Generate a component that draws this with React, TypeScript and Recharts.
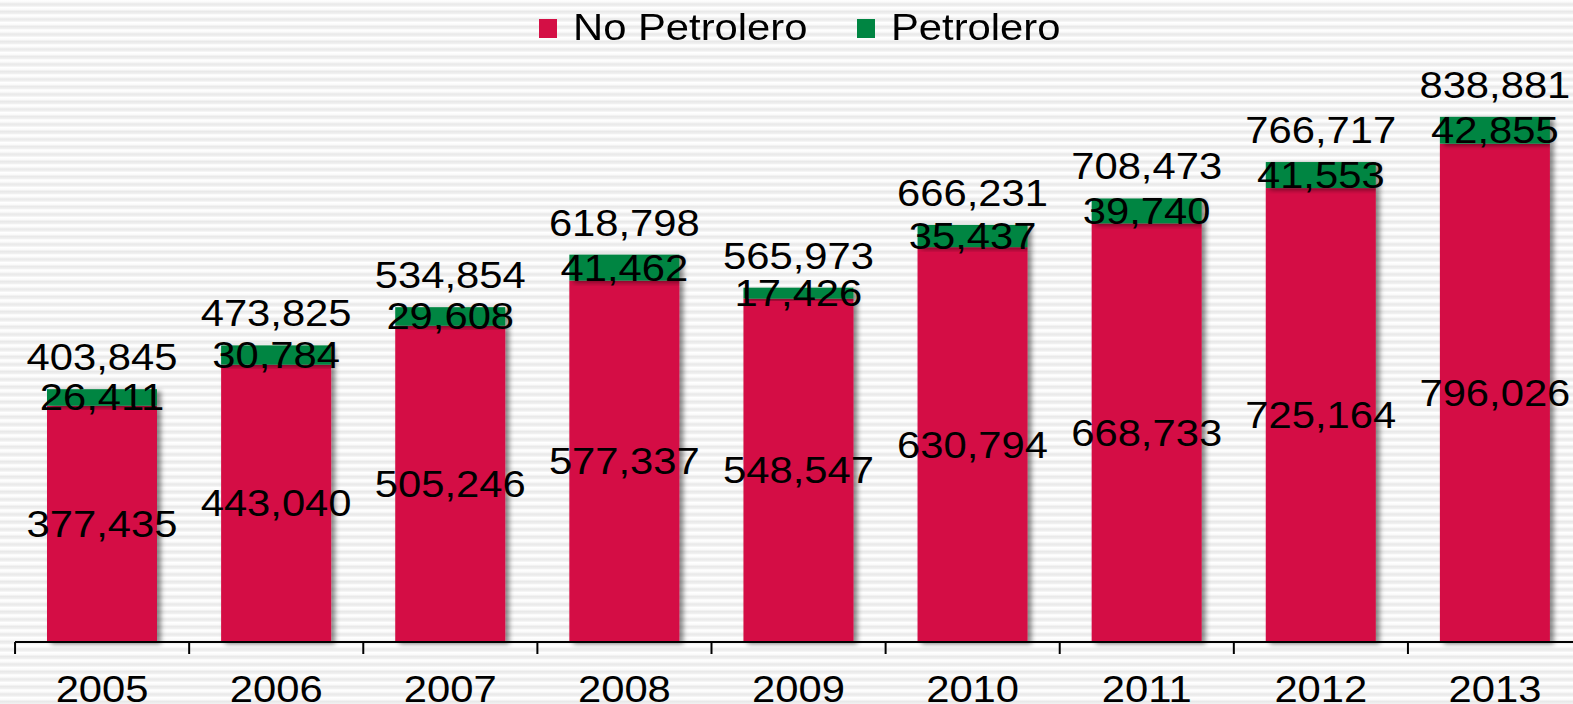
import React from 'react';
import { BarChart, Bar, XAxis, YAxis, LabelList } from 'recharts';

const years = ['2005', '2006', '2007', '2008', '2009', '2010', '2011', '2012', '2013'];
const noPetrolero = [377435, 443040, 505246, 577337, 548547, 630794, 668733, 725164, 796026];
const petrolero = [26411, 30784, 29608, 41462, 17426, 35437, 39740, 41553, 42855];
const totals = [403845, 473825, 534854, 618798, 565973, 666231, 708473, 766717, 838881];

const RED = '#d40f45';
const GREEN = '#008542';
const FONT = 'Arial, "Liberation Sans", sans-serif';
const STRETCH = 1.16;

const data = years.map((year, i) => ({
  year,
  noPetrolero: noPetrolero[i],
  petrolero: petrolero[i],
  total: totals[i],
}));

const fmt = (v: number) => v.toLocaleString('en-US');

function StretchText({ x, y, text }: { x: number; y: number; text: string }) {
  return (
    <text
      transform={`translate(${x},${y}) scale(${STRETCH},1)`}
      textAnchor="middle"
      fontSize={36}
      fontFamily={FONT}
      fill="#000"
    >
      {text}
    </text>
  );
}

function centerLabel(props: any) {
  const { x, y, width, height, value } = props;
  return <StretchText x={x + width / 2} y={y + height / 2 + 13} text={fmt(value)} />;
}

function totalLabel(props: any) {
  const { x, y, width, index } = props;
  return <StretchText x={x + width / 2} y={y - 19} text={fmt(totals[index])} />;
}

function shadowBar(fill: string) {
  return (props: any) => {
    const { x, y, width, height } = props;
    if (!height || height <= 0) return null;
    return <rect x={x} y={y} width={width} height={height} fill={fill} filter="url(#barShadow)" />;
  };
}

function YearTick(props: any) {
  const { x, y, payload, index } = props;
  const half = 87;
  return (
    <g>
      <line x1={x - half} x2={x - half} y1={y - 8} y2={y + 4} stroke="#000" strokeWidth={2} />
      {index === years.length - 1 && (
        <line x1={x + half} x2={x + half} y1={y - 8} y2={y + 4} stroke="#000" strokeWidth={2} />
      )}
      <StretchText x={x} y={y + 52} text={payload.value} />
    </g>
  );
}

function LegendBox() {
  const item = (color: string, label: string, left: number) => (
    <div style={{ position: 'absolute', left, top: 0, display: 'flex', alignItems: 'center', height: 56 }}>
      <span style={{ display: 'inline-block', width: 18, height: 19, background: color, marginRight: 16 }} />
      <span
        style={{
          display: 'inline-block',
          fontFamily: FONT,
          fontSize: 36,
          color: '#000',
          transform: `scaleX(${STRETCH})`,
          transformOrigin: 'left center',
          whiteSpace: 'nowrap',
        }}
      >
        {label}
      </span>
    </div>
  );
  return (
    <div style={{ position: 'absolute', left: 0, top: 0, width: 1573, height: 56 }}>
      {item(RED, 'No Petrolero', 539)}
      {item(GREEN, 'Petrolero', 857)}
    </div>
  );
}

export default function App() {
  return (
    <div
      style={{
        position: 'fixed',
        left: 0,
        top: 0,
        width: 1573,
        height: 704,
        overflow: 'hidden',
        background:
          'repeating-linear-gradient(to bottom, #ffffff 0px, #fafafa 2px, #e9e9e9 4px, #f0f0f0 6px, #ffffff 7.5px)',
      }}
    >
      <BarChart
        width={1600}
        height={704}
        data={data}
        margin={{ top: 16, right: 18, bottom: 0, left: 15 }}
        barSize={110}
      >
        <defs>
          <filter id="barShadow" x="-10%" y="-10%" width="130%" height="130%">
            <feDropShadow dx={4} dy={2} stdDeviation={2.5} floodColor="#000" floodOpacity={0.45} />
          </filter>
        </defs>
        <XAxis
          dataKey="year"
          height={62}
          axisLine={{ stroke: '#000', strokeWidth: 2 }}
          tickLine={false}
          tick={<YearTick />}
          interval={0}
        />
        <YAxis hide domain={[0, 1000000]} />
        <Bar dataKey="noPetrolero" stackId="a" fill={RED} shape={shadowBar(RED)} isAnimationActive={false}>
          <LabelList dataKey="noPetrolero" content={centerLabel} />
        </Bar>
        <Bar dataKey="petrolero" stackId="a" fill={GREEN} shape={shadowBar(GREEN)} isAnimationActive={false}>
          <LabelList dataKey="petrolero" content={centerLabel} />
          <LabelList dataKey="total" content={totalLabel} />
        </Bar>
      </BarChart>
      <LegendBox />
    </div>
  );
}
